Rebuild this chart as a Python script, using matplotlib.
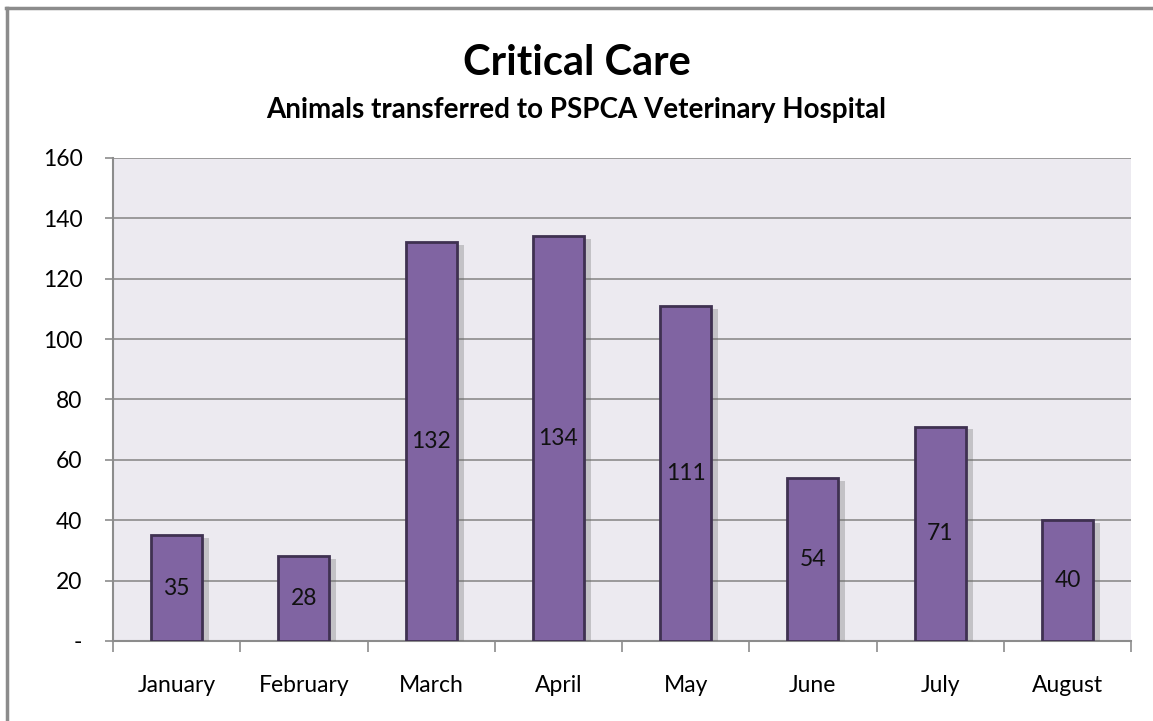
import matplotlib.pyplot as plt
import matplotlib.patheffects as pe
from matplotlib.lines import Line2D

# Data
months = ["January", "February", "March", "April", "May", "June", "July", "August"]
animals = [35, 28, 132, 134, 111, 54, 71, 40]
y_ticks = [0, 20, 40, 60, 80, 100, 120, 140, 160]
y_tick_labels = ["-", "20", "40", "60", "80", "100", "120", "140", "160"]


def main():
    plt.rcParams["font.family"] = ["Lato", "DejaVu Sans"]

    fig = plt.figure(figsize=(11.53, 7.21), dpi=100)
    ax = fig.add_axes([0.098, 0.111, 0.883, 0.670])

    # Plot area
    ax.set_facecolor("#ECEAF0")
    ax.set_axisbelow(True)
    ax.grid(axis="y", color="#8C8C8C", linewidth=1.2)

    x = list(range(len(months)))
    bars = ax.bar(x, animals, width=0.4, color="#8064A2",
                  edgecolor="#3F3151", linewidth=2, zorder=3)
    for b in bars:
        b.set_path_effects([
            pe.SimplePatchShadow(offset=(5, -2), shadow_rgbFace="#666666", alpha=0.3),
            pe.Normal(),
        ])

    # Value labels in the middle of each bar
    for xi, v in zip(x, animals):
        ax.text(xi, v / 2, str(v), ha="center", va="center",
                fontsize=16.5, color="#111111", zorder=4)

    ax.set_xlim(-0.5, len(months) - 0.5)
    ax.set_ylim(0, 160)
    ax.set_yticks(y_ticks)
    ax.set_yticklabels(y_tick_labels, fontsize=16.5)
    ax.tick_params(axis="y", length=6, color="#8C8C8C", width=1.2, pad=16)

    # Category ticks on boundaries, labels centred
    ax.set_xticks([i - 0.5 for i in range(len(months) + 1)])
    ax.set_xticklabels([])
    ax.set_xticks(x, minor=True)
    ax.set_xticklabels(months, minor=True, fontsize=16.5)
    ax.tick_params(axis="x", which="major", length=8, color="#8C8C8C", width=1.2)
    ax.tick_params(axis="x", which="minor", length=0, pad=24.5)

    for side in ["top", "right"]:
        ax.spines[side].set_visible(False)
    for side in ["left", "bottom"]:
        ax.spines[side].set_color("#8C8C8C")
        ax.spines[side].set_linewidth(1.5)

    # Titles
    fig.text(0.5, 0.913, "Critical Care", ha="center", va="center",
             fontsize=30, fontweight="bold")
    fig.text(0.5, 0.848, "Animals transferred to PSPCA Veterinary Hospital",
             ha="center", va="center", fontsize=20, fontweight="bold")

    # Outer border (top and left)
    fig.add_artist(Line2D([0.0055, 1.0], [0.9895, 0.9895], transform=fig.transFigure,
                          color="#8C8C8C", linewidth=2.5))
    fig.add_artist(Line2D([0.0060, 0.0060], [0.0, 0.9895], transform=fig.transFigure,
                          color="#8C8C8C", linewidth=2.5))

    fig.savefig("out.png", dpi=100)


if __name__ == "__main__":
    main()
